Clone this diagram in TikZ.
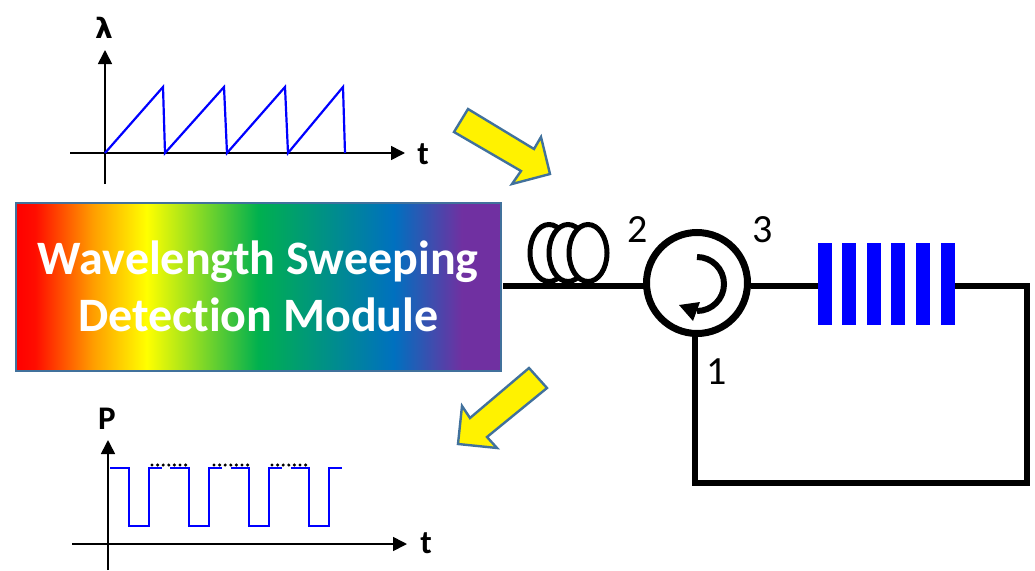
\documentclass[tikz,border=0pt]{standalone}
\usepackage{fontspec}
\setmainfont[Ligatures=NoCommon]{Carlito}
\usetikzlibrary{arrows.meta,shapes.geometric}
\pgfdeclarehorizontalshading{rainbowfill}{100bp}{
  rgb(0bp)=(1,0,0);
  rgb(25bp)=(1,0,0);
  rgb(27bp)=(1,0.05,0);
  rgb(33bp)=(1,0.62,0);
  rgb(38.5bp)=(1,1,0);
  rgb(50bp)=(0,0.69,0.31);
  rgb(64bp)=(0,0.44,0.75);
  rgb(71bp)=(0.44,0.19,0.63);
  rgb(75bp)=(0.44,0.19,0.63);
  rgb(100bp)=(0.44,0.19,0.63)}
\definecolor{edgeblue}{RGB}{65,113,156}
\tikzset{
  x=1pt,y=-1pt,
  axisline/.style={draw=black,line width=1.6pt,-{Triangle[length=14pt,width=14pt]}},
  sig/.style={draw=blue,line width=2.2pt,line join=miter},
  fibre/.style={draw=black,line width=6.5pt},
  bigarrow/.style={draw=edgeblue,fill=yellow,line width=2.4pt,line join=miter},
  lbl/.style={font=\fontsize{40}{40}\selectfont,text=black,inner sep=0pt},
  axlbl/.style={font=\fontsize{33}{33}\selectfont\bfseries,text=black,inner sep=0pt},
  coilring/.style={draw=black,fill=white,line width=5pt,ellipse,minimum width=38pt,minimum height=57pt,inner sep=0pt},
  bragg/.style={fill=blue,draw=none,minimum width=13.5pt,minimum height=82pt,inner sep=0pt},
  dots/.style={draw=black,line width=3.4pt,line cap=round,dash pattern=on 0pt off 5.6pt}
}
\begin{document}
\begin{tikzpicture}
\useasboundingbox (0,0) rectangle (1035,570);
% top plot
\coordinate (tx0) at (70,153); \coordinate (tx1) at (405,153);
\coordinate (ty0) at (105,184); \coordinate (ty1) at (105,50);
\draw[axisline] (tx0) -- (tx1);
\draw[axisline] (ty0) -- (ty1);
\node[axlbl] (lam) at (104,28) {\fontspec{DejaVu Sans}\fontsize{28}{28}\selectfont\bfseries λ};
\node[axlbl] (tt) at (423,154) {t};
\draw[sig] (105,153)--(163,87)--(165,153)--(224,87)--(227,153)--(285,87)--(288,153)--(343,87)--(345,153);
% bottom plot
\coordinate (bx0) at (72,544); \coordinate (bx1) at (407,544);
\coordinate (by0) at (108,570); \coordinate (by1) at (108,440);
\draw[axisline] (bx0) -- (bx1);
\draw[axisline] (by0) -- (by1);
\node[axlbl] (pp) at (107,419) {P};
\node[axlbl] (tb) at (426,543) {t};
\draw[sig] (110,468)--(129,468)--(129,526)--(149,526)--(149,468)--(162,468);
\draw[sig] (170,468)--(189,468)--(189,526)--(209,526)--(209,468)--(222,468);
\draw[sig] (231,468)--(249,468)--(249,526)--(269,526)--(269,468)--(282,468);
\draw[sig] (291,468)--(309,468)--(309,526)--(329,526)--(329,468)--(342,468);
\draw[dots] (152,465)--(187,465);
\draw[dots] (214,465)--(249,465);
\draw[dots] (272,465)--(307,465);
% yellow arrows
\draw[bigarrow] (468,109)--(454,132)--(521,171)--(512,184)--(550,174)--(541,137)--(534,149)--cycle;
\draw[bigarrow] (529,368)--(547,388)--(487,437)--(497,448)--(458,444)--(462,406)--(470,418)--cycle;
% module
\node[draw=edgeblue,line width=1.5pt,shading=rainbowfill,minimum width=485pt,minimum height=168pt,inner sep=0pt,anchor=north west,
  text=white,align=center,font=\fontsize{48}{57}\selectfont\bfseries] (module) at (15,202) {Wavelength Sweeping\\Detection Module};
% coil
\node[coilring] (c1) at (549,253) {};
\node[coilring] (c2) at (568,253) {};
\node[coilring] (c3) at (588,253) {};
% circulator
\coordinate (modout) at (503,286);
\draw[fibre] (modout) -- (650,286);
\node[draw=black,fill=white,line width=7pt,circle,minimum size=101pt,inner sep=0pt] (circ) at (697,283) {};
\coordinate (p1) at (695,483);
\coordinate (corner) at (1027,483);
\coordinate (cornertop) at (1027,286);
\draw[line width=6pt] (697,257) arc[start angle=-90,end angle=90,radius=27];
\fill (679,305)--(693,321)--(700,302)--cycle;
\node[lbl] (n2) at (638,230) {2};
\node[lbl] (n3) at (763,230) {3};
\node[lbl] (n1) at (717,372) {1};
% grating
\node[bragg] (b1) at (825,284) {};
\node[bragg] (b2) at (849,284) {};
\node[bragg] (b3) at (874,284) {};
\node[bragg] (b4) at (898,284) {};
\node[bragg] (b5) at (923,284) {};
\node[bragg] (b6) at (948,284) {};
\draw[fibre] (circ.east |- modout) -- (b1.west |- modout);
\draw[fibre,line join=miter] (b6.east |- modout) -- (cornertop) -- (corner) -- (p1) -- (695,335);
\end{tikzpicture}
\end{document}
